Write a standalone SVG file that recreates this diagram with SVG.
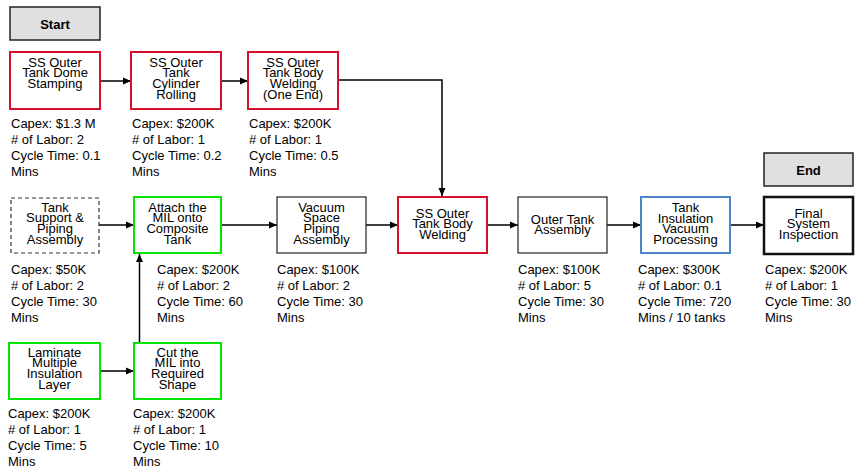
<svg xmlns="http://www.w3.org/2000/svg" width="856" height="470" viewBox="0 0 856 470">
<defs>
<marker id="ah" markerUnits="userSpaceOnUse" markerWidth="8" markerHeight="8" refX="8" refY="4" orient="auto">
<path d="M0,0.5 L8,4 L0,7.5 Z" fill="#000"/>
</marker>
<style>
text{font-family:"Liberation Sans",Arial,sans-serif;font-size:13px;fill:#000}
.c{text-anchor:middle}
.b{font-weight:bold}
.term{fill:#e0e0e0;stroke:#222;stroke-width:1.5}
.red{fill:#fff;stroke:#d8102a;stroke-width:2}
.green{fill:#fff;stroke:#00e600;stroke-width:2}
.blue{fill:#fff;stroke:#4a86c8;stroke-width:2}
.plain{fill:#fff;stroke:#222;stroke-width:1.2}
.dash{fill:#fff;stroke:#333;stroke-width:1.2;stroke-dasharray:4,3}
.thick{fill:#fff;stroke:#111;stroke-width:2.5}
.conn{fill:none;stroke:#000;stroke-width:1.5}
</style>
</defs>
<rect width="856" height="470" fill="#fff"/>

<g id="start"><rect class="term" x="10" y="7" width="90" height="33"/><text class="c b" x="55" y="29">Start</text></g>
<g id="end"><rect class="term" x="764" y="153" width="89" height="33"/><text class="c b" x="808.5" y="175">End</text></g>

<g id="connectors">
<line class="conn" x1="100" y1="81" x2="131" y2="81" marker-end="url(#ah)"/>
<line class="conn" x1="221" y1="81" x2="248" y2="81" marker-end="url(#ah)"/>
<polyline class="conn" points="338,80 442,80 442,196" marker-end="url(#ah)"/>
<line class="conn" x1="99" y1="225" x2="134" y2="225" marker-end="url(#ah)"/>
<line class="conn" x1="221" y1="225" x2="277" y2="225" marker-end="url(#ah)"/>
<line class="conn" x1="366" y1="225" x2="398" y2="225" marker-end="url(#ah)"/>
<line class="conn" x1="487" y1="225" x2="518" y2="225" marker-end="url(#ah)"/>
<line class="conn" x1="607" y1="225" x2="641" y2="225" marker-end="url(#ah)"/>
<line class="conn" x1="730" y1="225" x2="764" y2="225" marker-end="url(#ah)"/>
<line class="conn" x1="100" y1="371" x2="134" y2="371" marker-end="url(#ah)"/>
<line class="conn" x1="139.5" y1="343" x2="139.5" y2="254" marker-end="url(#ah)"/>
</g>

<g id="n1"><rect class="red" x="10" y="52" width="90" height="57"/>
<text class="c" x="55" y="66.5">SS Outer</text><text class="c" x="55" y="77.2">Tank Dome</text><text class="c" x="55" y="87.9">Stamping</text>
<text x="11" y="127.5">Capex: $1.3 M</text><text x="11" y="143.5"># of Labor: 2</text><text x="11" y="159.5">Cycle Time: 0.1</text><text x="11" y="175.5">Mins</text></g>

<g id="n2"><rect class="red" x="131" y="52" width="90" height="57"/>
<text class="c" x="176" y="66.5">SS Outer</text><text class="c" x="176" y="77.2">Tank</text><text class="c" x="176" y="87.9">Cylinder</text><text class="c" x="176" y="98.6">Rolling</text>
<text x="132" y="127.5">Capex: $200K</text><text x="132" y="143.5"># of Labor: 1</text><text x="132" y="159.5">Cycle Time: 0.2</text><text x="132" y="175.5">Mins</text></g>

<g id="n3"><rect class="red" x="248" y="52" width="90" height="57"/>
<text class="c" x="293" y="66.5">SS Outer</text><text class="c" x="293" y="77.2">Tank Body</text><text class="c" x="293" y="87.9">Welding</text><text class="c" x="293" y="98.6">(One End)</text>
<text x="249" y="127.5">Capex: $200K</text><text x="249" y="143.5"># of Labor: 1</text><text x="249" y="159.5">Cycle Time: 0.5</text><text x="249" y="175.5">Mins</text></g>

<g id="n4"><rect class="dash" x="11" y="198" width="88" height="55"/>
<text class="c" x="55" y="211.5">Tank</text><text class="c" x="55" y="222.2">Support &amp;</text><text class="c" x="55" y="232.9">Piping</text><text class="c" x="55" y="243.6">Assembly</text>
<text x="11" y="273.5">Capex: $50K</text><text x="11" y="289.5"># of Labor: 2</text><text x="11" y="305.5">Cycle Time: 30</text><text x="11" y="321.5">Mins</text></g>

<g id="n5"><rect class="green" x="134" y="197" width="87" height="56"/>
<text class="c" x="177.5" y="211.5">Attach the</text><text class="c" x="177.5" y="222.2">MIL onto</text><text class="c" x="177.5" y="232.9">Composite</text><text class="c" x="177.5" y="243.6">Tank</text>
<text x="157" y="273.5">Capex: $200K</text><text x="157" y="289.5"># of Labor: 2</text><text x="157" y="305.5">Cycle Time: 60</text><text x="157" y="321.5">Mins</text></g>

<g id="n6"><rect class="plain" x="277" y="197" width="89" height="56"/>
<text class="c" x="321.5" y="211.5">Vacuum</text><text class="c" x="321.5" y="222.2">Space</text><text class="c" x="321.5" y="232.9">Piping</text><text class="c" x="321.5" y="243.6">Assembly</text>
<text x="277" y="273.5">Capex: $100K</text><text x="277" y="289.5"># of Labor: 2</text><text x="277" y="305.5">Cycle Time: 30</text><text x="277" y="321.5">Mins</text></g>

<g id="n7"><rect class="red" x="398" y="197" width="89" height="56"/>
<text class="c" x="442.5" y="217.5">SS Outer</text><text class="c" x="442.5" y="228.2">Tank Body</text><text class="c" x="442.5" y="238.9">Welding</text></g>

<g id="n8"><rect class="plain" x="518" y="197" width="89" height="56"/>
<text class="c" x="562.5" y="223.5">Outer Tank</text><text class="c" x="562.5" y="234.2">Assembly</text>
<text x="518" y="273.5">Capex: $100K</text><text x="518" y="289.5"># of Labor: 5</text><text x="518" y="305.5">Cycle Time: 30</text><text x="518" y="321.5">Mins</text></g>

<g id="n9"><rect class="blue" x="641" y="197" width="89" height="56"/>
<text class="c" x="685.5" y="212">Tank</text><text class="c" x="685.5" y="222.7">Insulation</text><text class="c" x="685.5" y="233.4">Vacuum</text><text class="c" x="685.5" y="244.1">Processing</text>
<text x="638" y="273.5">Capex: $300K</text><text x="638" y="289.5"># of Labor: 0.1</text><text x="638" y="305.5">Cycle Time: 720</text><text x="638" y="321.5">Mins / 10 tanks</text></g>

<g id="n10"><rect class="thick" x="764" y="197" width="89" height="57"/>
<text class="c" x="808.5" y="217.5">Final</text><text class="c" x="808.5" y="228.2">System</text><text class="c" x="808.5" y="238.9">Inspection</text>
<text x="765" y="273.5">Capex: $200K</text><text x="765" y="289.5"># of Labor: 1</text><text x="765" y="305.5">Cycle Time: 30</text><text x="765" y="321.5">Mins</text></g>

<g id="n11"><rect class="green" x="9" y="343" width="91" height="56"/>
<text class="c" x="54.5" y="356.5">Laminate</text><text class="c" x="54.5" y="367.2">Multiple</text><text class="c" x="54.5" y="377.9">Insulation</text><text class="c" x="54.5" y="388.6">Layer</text>
<text x="8" y="417.5">Capex: $200K</text><text x="8" y="433.5"># of Labor: 1</text><text x="8" y="449.5">Cycle Time: 5</text><text x="8" y="465.5">Mins</text></g>

<g id="n12"><rect class="green" x="134" y="343" width="87" height="56"/>
<text class="c" x="177.5" y="356.5">Cut the</text><text class="c" x="177.5" y="367.2">MIL into</text><text class="c" x="177.5" y="377.9">Required</text><text class="c" x="177.5" y="388.6">Shape</text>
<text x="133" y="417.5">Capex: $200K</text><text x="133" y="433.5"># of Labor: 1</text><text x="133" y="449.5">Cycle Time: 10</text><text x="133" y="465.5">Mins</text></g>
</svg>
